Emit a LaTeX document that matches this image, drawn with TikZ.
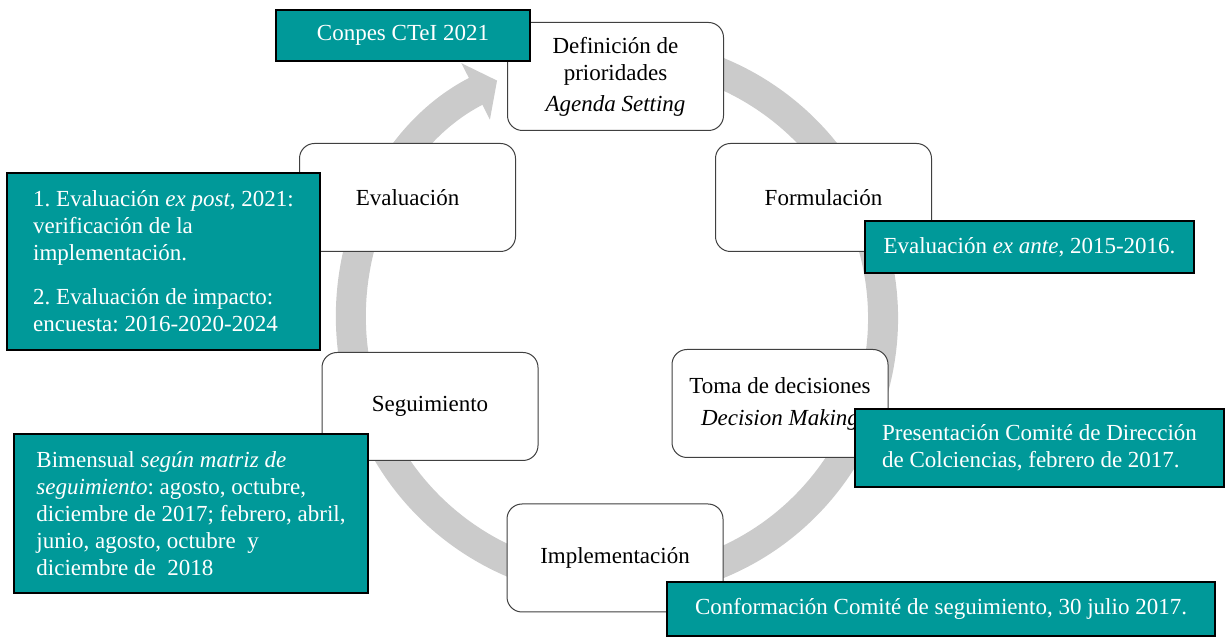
\documentclass[tikz,border=0pt]{standalone}
\usepackage{fontspec}
\setmainfont{Liberation Serif}
\usetikzlibrary{arrows.meta,positioning}
\definecolor{notegreen}{RGB}{0,153,153}
\definecolor{ringgray}{RGB}{203,203,203}
\frenchspacing
\tikzset{
  basic/.style = {font=\fontsize{11.5}{13.5}\selectfont, rectangle, inner sep=0pt},
  stage/.style = {basic, draw=black!75, line width=0.5pt, rounded corners=7.5pt,
  fill=white, align=center, minimum width=108pt, minimum height=54pt},
  note/.style  = {basic, draw=black, line width=0.9pt, fill=notegreen, text=white},
  cycle/.style = {line width=15pt, color=ringgray}
}

\begin{document}
\begin{tikzpicture}[x=0.5pt,y=0.5pt]
\useasboundingbox (0,0) rectangle (1226,637);
\draw[cycle, -{Triangle[width=31pt,length=12pt]}] (617,319) ++(105:266)
  arc[start angle=105, end angle=-243.2, radius=266];

\node[stage] (definicion) at (615.5,560.5) {Definición de\\prioridades\\[2pt]\textit{Agenda Setting}};
\node[stage] (formulacion) at (823.5,439.5) {Formulación};
\node[stage] (toma) at (780,233.5) {Toma de decisiones\\[2.5pt]\textit{Decision Making}};
\node[stage] (implementacion) at (615,79) {Implementación};
\node[stage] (seguimiento) at (430,230.5) {Seguimiento};
\node[stage] (evaluacion) at (407.5,439.5) {Evaluación};

\node[note, minimum width=127pt, minimum height=25.5pt] (conpes) at (403,601.5) {Conpes CTeI 2021};
\node[note, minimum width=164.5pt, minimum height=26pt] (exante) at (1029.5,390)
  {Evaluación \textit{ex ante}, 2015-2016.};
\node[note, align=left, minimum width=156.5pt, minimum height=88.5pt] (evalnote) at (163.5,375.5)
  {1. Evaluación \textit{ex post}, 2021:\\verificación de la\\implementación.\\[8.5pt]2. Evaluación de impacto:\\encuesta: 2016-2020-2024};
\node[note, align=left, minimum width=184.5pt, minimum height=39pt] (presnote) at (1039.5,189)
  {Presentación Comité de Dirección\\de Colciencias, febrero de 2017.};
\node[note, align=left, minimum width=177pt, minimum height=79.5pt] (bimnote) at (191,123.5)
  {Bimensual \textit{según matriz de}\\\textit{seguimiento}: agosto, octubre,\\diciembre de 2017; febrero, abril,\\junio, agosto, octubre~ y\\diciembre de~ 2018};
\node[note, minimum width=274pt, minimum height=27pt] (confnote) at (941,28)
  {Conformación Comité de seguimiento, 30 julio 2017.};
\end{tikzpicture}
\end{document}
